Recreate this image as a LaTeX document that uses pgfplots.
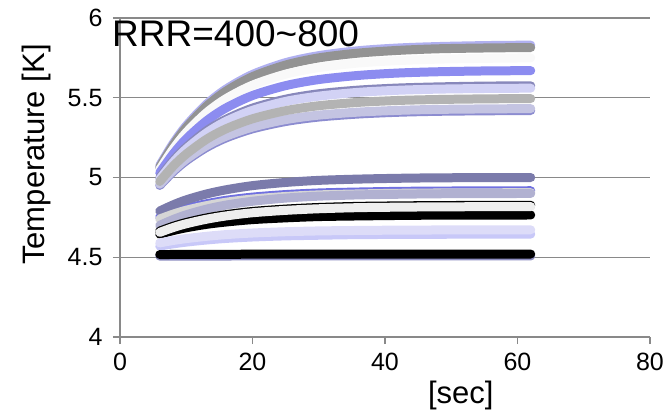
\documentclass[border=0pt]{standalone}
\usepackage{pgfplots}
\pgfplotsset{compat=1.18}
\usepackage{fontspec}
\setmainfont{Liberation Sans}
\definecolor{axgray}{HTML}{898989}
\definecolor{cLB}{HTML}{B0B0F0}
\definecolor{cG1}{HTML}{939393}
\definecolor{cW}{HTML}{F9F9F9}
\definecolor{cB}{HTML}{8C8CF0}
\definecolor{cOL}{HTML}{8888BB}
\definecolor{cLav}{HTML}{D2D2F5}
\definecolor{cBO2}{HTML}{8C8CD0}
\definecolor{cLG}{HTML}{C4C4E2}
\definecolor{cG2}{HTML}{B3B3B3}
\definecolor{cBT}{HTML}{7070E0}
\definecolor{cDS}{HTML}{7B7BAB}
\definecolor{cLgr}{HTML}{D6D6D6}
\definecolor{cGB}{HTML}{B1B1D1}
\definecolor{cWB}{HTML}{EEEEEE}
\definecolor{cLL}{HTML}{C8C8F8}
\definecolor{cLLa}{HTML}{DDDCF8}
\definecolor{cBOut}{HTML}{8E8EC0}
\begin{document}
\begin{tikzpicture}
\useasboundingbox (0,0) rectangle (664pt,410pt);
\begin{axis}[
  at={(120pt,73pt)}, anchor=south west,
  scale only axis, width=530pt, height=319pt,
  xmin=0, xmax=80, ymin=4, ymax=6,
  xtick={0,20,40,60,80}, ytick={4,4.5,5,5.5,6},
  axis lines*=left,
  axis line style={draw=axgray, line width=1.4pt},
  tick align=outside, major tick length=7pt,
  tick style={draw=axgray, line width=1.4pt},
  ymajorgrids, grid style={draw=axgray, line width=1.4pt},
  ticklabel style={font=\fontsize{25}{30}\selectfont},
  /pgf/number format/assume math mode=true,
  yticklabel style={xshift=-7pt},
  xticklabel style={yshift=-6pt},
  xlabel={[sec]}, ylabel={Temperature [K]},
  label style={font=\fontsize{31}{36}\selectfont},
  xlabel style={at={(axis description cs:0.643,-0.182)}, anchor=center},
  ylabel style={at={(axis description cs:-0.157,0.572)}, anchor=center},
  every axis plot/.append style={line width=9pt, line cap=round, smooth, mark=none},
]
% upper group
\addplot[draw=cLB] coordinates {(6,5.075)(8,5.212)(10,5.325)(13,5.457)(16,5.554)(20,5.646)(25,5.720)(30,5.764)(36,5.795)(42,5.812)(48,5.821)(55,5.827)(62,5.830)};
\addplot[draw=cG1] coordinates {(6,5.065)(8,5.201)(10,5.313)(13,5.444)(16,5.541)(20,5.632)(25,5.705)(30,5.750)(36,5.780)(42,5.797)(48,5.807)(55,5.812)(62,5.815)};
\addplot[draw=cW] coordinates {(6,5.050)(8,5.177)(10,5.282)(13,5.404)(16,5.494)(20,5.579)(25,5.648)(30,5.689)(36,5.718)(42,5.733)(48,5.742)(55,5.747)(62,5.750)};
\addplot[draw=cB] coordinates {(6,5.030)(8,5.146)(10,5.242)(13,5.353)(16,5.436)(20,5.514)(25,5.576)(30,5.614)(36,5.640)(42,5.655)(48,5.663)(55,5.668)(62,5.670)};
\addplot[draw=cOL] coordinates {(6,5.000)(8,5.105)(10,5.190)(13,5.291)(16,5.365)(20,5.435)(25,5.491)(30,5.525)(36,5.548)(42,5.561)(48,5.568)(55,5.573)(62,5.575)};
\addplot[draw=cLav] coordinates {(6,4.990)(8,5.094)(10,5.179)(13,5.278)(16,5.352)(20,5.421)(25,5.477)(30,5.510)(36,5.534)(42,5.547)(48,5.554)(55,5.558)(62,5.560)};
\addplot[draw=cBO2] coordinates {(6,4.950)(8,5.035)(10,5.105)(13,5.187)(16,5.248)(20,5.305)(25,5.351)(30,5.379)(36,5.398)(42,5.409)(48,5.415)(55,5.418)(62,5.420)};
\addplot[draw=cLG] coordinates {(6,4.958)(8,5.044)(10,5.115)(13,5.198)(16,5.259)(20,5.316)(25,5.363)(30,5.391)(36,5.410)(42,5.421)(48,5.427)(55,5.430)(62,5.432)};
\addplot[draw=cG2] coordinates {(6,4.975)(8,5.070)(10,5.147)(13,5.238)(16,5.305)(20,5.368)(25,5.419)(30,5.450)(36,5.471)(42,5.483)(48,5.489)(55,5.493)(62,5.495)};
% lower group
\addplot[draw=cBT] coordinates {(6,4.752)(8,4.782)(10,4.807)(13,4.835)(16,4.857)(20,4.877)(25,4.893)(30,4.903)(36,4.909)(42,4.913)(48,4.915)(55,4.916)(62,4.917)};
\addplot[draw=cDS] coordinates {(6,4.790)(8,4.828)(10,4.860)(13,4.896)(16,4.923)(20,4.949)(25,4.969)(30,4.982)(36,4.990)(42,4.995)(48,4.998)(55,4.999)(62,5.000)};
\addplot[draw=cLgr] coordinates {(6,4.740)(8,4.770)(10,4.795)(13,4.823)(16,4.845)(20,4.865)(25,4.881)(30,4.891)(36,4.897)(42,4.901)(48,4.903)(55,4.904)(62,4.905)};
\addplot[draw=cGB] coordinates {(6,4.700)(8,4.736)(10,4.766)(13,4.801)(16,4.827)(20,4.851)(25,4.871)(30,4.883)(36,4.891)(42,4.895)(48,4.898)(55,4.899)(62,4.900)};
\addplot[draw=black] coordinates {(6,4.645)(8,4.667)(10,4.685)(13,4.706)(16,4.721)(20,4.736)(25,4.747)(30,4.755)(36,4.759)(42,4.762)(48,4.764)(55,4.764)(62,4.765)};
\addplot[draw=black] coordinates {(6,4.664)(8,4.694)(10,4.718)(13,4.746)(16,4.767)(20,4.787)(25,4.802)(30,4.812)(36,4.819)(42,4.822)(48,4.824)(55,4.825)(62,4.826)};
\addplot[draw=cWB] coordinates {(6,4.656)(8,4.686)(10,4.710)(13,4.738)(16,4.759)(20,4.779)(25,4.794)(30,4.804)(36,4.811)(42,4.814)(48,4.816)(55,4.817)(62,4.818)};
\addplot[draw=cLL] coordinates {(6,4.570)(8,4.584)(10,4.595)(13,4.608)(16,4.618)(20,4.627)(25,4.634)(30,4.638)(36,4.642)(42,4.643)(48,4.644)(55,4.645)(62,4.645)};
\addplot[draw=cLLa] coordinates {(6,4.590)(8,4.605)(10,4.617)(13,4.631)(16,4.642)(20,4.652)(25,4.660)(30,4.665)(36,4.668)(42,4.670)(48,4.671)(55,4.672)(62,4.672)};
\addplot[draw=cBOut] coordinates {(6,4.507)(20,4.508)(40,4.508)(62,4.508)};
\addplot[draw=black] coordinates {(6,4.517)(20,4.519)(40,4.520)(62,4.520)};
\end{axis}
\node[anchor=base west, inner sep=0pt, font=\fontsize{37}{42}\selectfont] at (112pt,363.3pt) {RRR=400\textasciitilde800};
\end{tikzpicture}
\end{document}
